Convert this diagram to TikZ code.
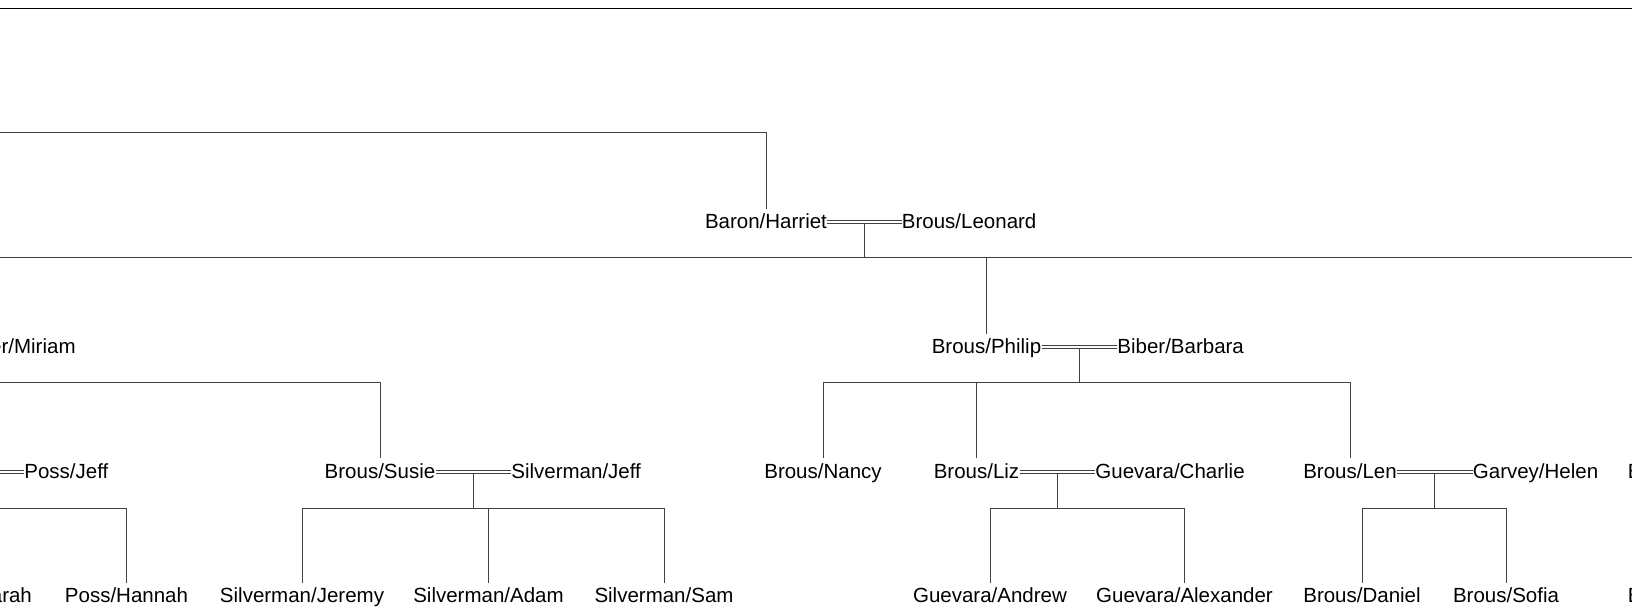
\documentclass[tikz,border=0pt]{standalone}
\usepackage{fontspec}
\setmainfont{Liberation Sans}
\usetikzlibrary{calc}
\tikzset{
  person/.style={font=\fontsize{10.25pt}{12pt}\selectfont, inner xsep=0pt, inner ysep=2.25pt,
                 text height=7.5pt, text depth=1pt, anchor=base},
  link/.style={draw=black!75, line width=0.5pt},
  marriage/.style={draw=black!75, line width=0.5pt, double=white, double distance=1pt},
  border/.style={draw=black, line width=0.6pt}
}
\begin{document}
\begin{tikzpicture}[x=0.5pt,y=-0.5pt]
\useasboundingbox (0,0) rectangle (1632,614);
\clip (0,0) rectangle (1632,614);
% frame line at top
\draw[border] (0,8.3) -- (1632,8.3);
% named free ends at the picture's left/right edges
\coordinate (top0) at (0,133);
\coordinate (bar1L) at (0,258);
\coordinate (bar1R) at (1632,258);
\coordinate (bar2L) at (0,383);
\coordinate (bar3L) at (0,508);

% ---- generation 1
\node[person] (Baron) at (766,228.5) {Baron/Harriet};
\node[person, anchor=base west] (Leonard) at (901.5,228.5) {Brous/Leonard};
% ---- generation 2
\node[person, anchor=base east] (Miriam) at (76,353.5) {er/Miriam};
\node[person] (Philip) at (986.5,353.5) {Brous/Philip};
\node[person, anchor=base west] (Barbara) at (1117,353.5) {Biber/Barbara};
% ---- generation 3
\node[person, anchor=base west] (PossJeff) at (24,478) {Poss/Jeff};
\node[person] (Susie) at (380,478) {Brous/Susie};
\node[person, anchor=base west] (SilvJeff) at (511,478) {Silverman/Jeff};
\node[person] (Nancy) at (823,478) {Brous/Nancy};
\node[person] (Liz) at (976.5,478) {Brous/Liz};
\node[person, anchor=base west] (Charlie) at (1095,478) {Guevara/Charlie};
\node[person] (Len) at (1350,478) {Brous/Len};
\node[person, anchor=base west] (Helen) at (1472.5,478) {Garvey/Helen};
\node[person, anchor=base west] (Bthree) at (1627.5,478) {B};
% ---- generation 4
\node[person, anchor=base east] (Sarah) at (32.3,602.5) {arah};
\node[person] (Hannah) at (126.5,602.5) {Poss/Hannah};
\node[person] (Jeremy) at (302,602.5) {Silverman/Jeremy};
\node[person] (Adam) at (488.5,602.5) {Silverman/Adam};
\node[person] (Sam) at (664,602.5) {Silverman/Sam};
\node[person] (Andrew) at (990,602.5) {Guevara/Andrew};
\node[person] (Alexander) at (1184.5,602.5) {Guevara/Alexander};
\node[person] (Daniel) at (1362,602.5) {Brous/Daniel};
\node[person] (Sofia) at (1506,602.5) {Brous/Sofia};
\node[person, anchor=base west] (Bfour) at (1627.5,602.5) {B};

% ---- connectors
% Baron/Harriet up to her parents' bar
\draw[link] (Baron.north) |- (top0);
% marriage Baron - Leonard
\draw[marriage] (Baron.east) -- (Leonard.west);
\coordinate (m1) at ($(Baron.east)!0.5!(Leonard.west)+(0,1.5)$);
\draw[link] (m1) -- (m1 |- bar1L);
\draw[link] (bar1L) -- (bar1R);
\draw[link] (Philip.north) -- (Philip.north |- bar1L);

% Miriam's children bar
\draw[link] (bar2L) -| (Susie.north);

% marriage Philip - Barbara
\draw[marriage] (Philip.east) -- (Barbara.west);
\coordinate (m2) at ($(Philip.east)!0.5!(Barbara.west)+(0,1.5)$);
\draw[link] (m2) -- (m2 |- bar2L);
\draw[link] (Nancy.north) |- (Len.north |- bar2L) -- (Len.north);
\draw[link] (Liz.north) -- (Liz.north |- bar2L);

% marriage ... - Poss/Jeff
\draw[marriage] (PossJeff.west -| bar3L) -- (PossJeff.west);
\draw[link] (bar3L) -| (Hannah.north);

% marriage Susie - Silverman/Jeff
\draw[marriage] (Susie.east) -- (SilvJeff.west);
\coordinate (m3) at ($(Susie.east)!0.5!(SilvJeff.west)+(0,1.5)$);
\draw[link] (m3) -- (m3 |- bar3L);
\draw[link] (Jeremy.north) |- (Sam.north |- bar3L) -- (Sam.north);
\draw[link] (Adam.north) -- (Adam.north |- bar3L);

% marriage Liz - Charlie
\draw[marriage] (Liz.east) -- (Charlie.west);
\coordinate (m4) at ($(Liz.east)!0.5!(Charlie.west)+(0,1.5)$);
\draw[link] (m4) -- (m4 |- bar3L);
\draw[link] (Andrew.north) |- (Alexander.north |- bar3L) -- (Alexander.north);

% marriage Len - Helen
\draw[marriage] (Len.east) -- (Helen.west);
\coordinate (m5) at ($(Len.east)!0.5!(Helen.west)+(0,1.5)$);
\draw[link] (m5) -- (m5 |- bar3L);
\draw[link] (Daniel.north) |- (Sofia.north |- bar3L) -- (Sofia.north);
\end{tikzpicture}
\end{document}
